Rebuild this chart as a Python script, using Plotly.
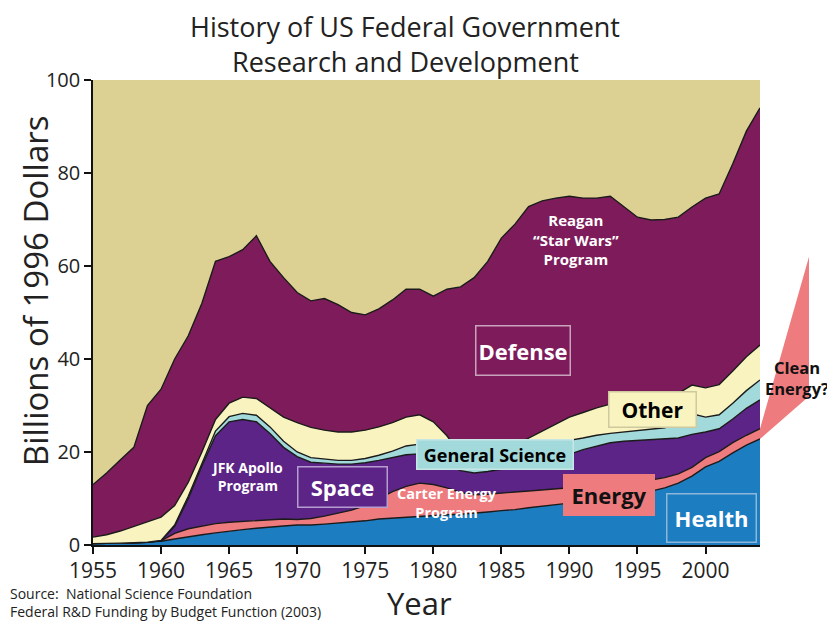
import plotly.graph_objects as go

years = list(range(1955, 2005))

health = [0.3, 0.3, 0.4, 0.5, 0.6, 0.8, 1.3, 1.8, 2.2, 2.6,
          3.0, 3.3, 3.6, 3.9, 4.1, 4.3, 4.3, 4.5, 4.7, 5.0,
          5.2, 5.6, 5.8, 6.0, 6.2, 6.4, 6.5, 6.6, 6.8, 7.1,
          7.4, 7.6, 8.0, 8.3, 8.6, 9.0, 9.4, 9.9, 10.3, 10.7,
          11.0, 11.6, 12.3, 13.3, 14.8, 16.8, 18.0, 19.8, 21.5, 22.8]
energy = [0, 0, 0, 0, 0, 0.1, 1.2, 1.7, 1.9, 2.0,
          1.9, 1.8, 1.7, 1.6, 1.5, 1.2, 1.4, 1.7, 2.1, 2.5,
          3.3, 4.4, 5.7, 6.6, 7.1, 6.6, 5.8, 4.7, 4.0, 3.8,
          3.8, 3.8, 3.6, 3.5, 3.4, 3.3, 3.2, 3.0, 2.9, 2.7,
          2.5, 2.4, 2.2, 2.0, 1.9, 2.0, 2.1, 2.2, 2.1, 2.2]
space = [0, 0, 0, 0, 0, 0.1, 1.5, 6.5, 12.9, 18.9,
         21.6, 21.9, 21.2, 18.5, 15.4, 13.5, 12.1, 11.4, 10.6, 9.9,
         9.2, 8.2, 7.3, 6.8, 6.3, 6.0, 5.2, 4.7, 4.7, 4.9,
         5.1, 5.4, 5.9, 6.4, 6.8, 7.2, 7.9, 8.4, 8.8, 8.9,
         9.0, 8.6, 8.3, 7.7, 7.1, 5.5, 4.9, 5.1, 5.8, 6.2]
general_science = [0, 0, 0, 0, 0, 0, 0.3, 0.5, 0.7, 1.0,
                   1.1, 1.3, 1.4, 1.4, 1.3, 1.0, 1.0, 0.9, 0.8, 0.8,
                   0.9, 1.1, 1.4, 1.9, 2.1, 2.0, 1.7, 1.4, 1.2, 1.4,
                   1.5, 1.7, 1.8, 2.0, 2.5, 3.0, 2.5, 2.3, 2.0, 2.0,
                   2.0, 2.2, 2.4, 3.2, 4.4, 3.2, 3.0, 3.4, 3.8, 4.3]
other = [1.4, 1.9, 2.6, 3.5, 4.4, 5.0, 4.2, 3.0, 2.3, 2.5,
         2.9, 3.5, 3.6, 4.1, 5.2, 6.3, 6.5, 6.2, 6.1, 6.1,
         6.1, 6.1, 6.1, 6.2, 6.3, 5.5, 4.3, 2.1, 0.8, 1.8,
         2.7, 3.0, 3.7, 4.3, 4.7, 5.0, 5.5, 5.9, 6.3, 6.5,
         6.7, 6.8, 6.8, 6.4, 6.2, 6.3, 6.5, 6.9, 7.3, 7.5]
defense = [11.3, 13.3, 15.3, 17.0, 25.0, 27.5, 31.5, 31.5, 32.0, 34.0,
           31.5, 31.7, 35.0, 31.5, 30.0, 28.0, 27.2, 28.3, 27.4, 25.7,
           24.8, 25.4, 26.4, 27.5, 27.0, 27.0, 31.5, 36.0, 40.0, 42.0,
           45.5, 47.5, 49.8, 49.5, 48.6, 47.5, 46.1, 45.1, 44.7, 41.9,
           39.3, 38.3, 38.0, 37.9, 38.3, 40.8, 41.0, 44.6, 48.5, 51.0]

# hypothetical "Clean Energy?" projection: (year, lower edge, upper edge)
clean_energy_projection = (2007.6, 32.0, 62.0)

x_ticks = list(range(1955, 2001, 5))
y_ticks = [0, 20, 40, 60, 80, 100]
X_RANGE = [1955, 2004]
Y_RANGE = [0, 100]

C_BG = "#DCD193"
C_DEF = "#7E1C5B"
C_OTH = "#F8F3BF"
C_GS = "#A2D9DA"
C_SPACE = "#5C2486"
C_EN = "#EE7B7D"
C_HEALTH = "#1D7DC1"
EDGE = "#1b1b1b"
FONT = "Open Sans"

fig = go.Figure()
series = [("Health", health, C_HEALTH), ("Energy", energy, C_EN),
          ("Space", space, C_SPACE), ("General Science", general_science, C_GS),
          ("Other", other, C_OTH), ("Defense", defense, C_DEF)]
for name, vals, col in series:
    fig.add_trace(go.Scatter(x=years, y=vals, name=name, stackgroup="rd",
                             mode="lines", line=dict(color=EDGE, width=1.4),
                             fillcolor=col, hoverinfo="x+y+name"))

def px(x):
    return (x - X_RANGE[0]) / (X_RANGE[1] - X_RANGE[0])

def py(y):
    return (y - Y_RANGE[0]) / (Y_RANGE[1] - Y_RANGE[0])

# Clean energy wedge extending the energy band beyond the plot
h_end = health[-1]
e_end = health[-1] + energy[-1]
cx, clo, chi = clean_energy_projection
path = (f"M {px(years[-1])},{py(e_end)} L {px(cx)},{py(chi)} "
        f"L {px(cx)},{py(clo)} L {px(years[-1])},{py(h_end)} Z")
fig.add_shape(type="path", path=path, xref="paper", yref="paper",
              fillcolor=C_EN, line=dict(width=0), layer="above")

ann = []
def label(text, x, y, size, color, bg=None, border=None, w=None, h=None, xref="x", yref="y"):
    d = dict(text=text, x=x, y=y, xref=xref, yref=yref, showarrow=False,
             xanchor="center", yanchor="middle",
             font=dict(family=FONT, size=size, color=color), align="center")
    if bg:
        d.update(bgcolor=bg, borderpad=2)
    if border:
        d.update(bordercolor=border, borderwidth=1.5)
    if w:
        d.update(width=w, height=h)
    ann.append(d)

label("<b>Reagan<br>“Star Wars”<br>Program</b>", 1990.5, 65.6, 15, "white")
label("<b>Defense</b>", 1986.56, 41.9, 22, "white", C_DEF, "#C9A2BC", 89, 44)
label("<b>Other</b>", 1996.07, 29.2, 21, "black", C_OTH, "#CFC99F", 82, 30)
label("<b>General Science</b>", 1984.5, 19.57, 18, "black", C_GS, "#C8E6E6", 151, 24)
label("<b>JFK Apollo<br>Program</b>", 1966.3, 14.8, 14, "white")
label("<b>Space</b>", 1973.3, 12.58, 22, "white", C_SPACE, "#B59DD0", 84, 35)
label("<b>Carter Energy<br>Program</b>", 1981.0, 9.0, 14.5, "white")
label("<b>Energy</b>", 1992.88, 10.65, 22, "#111", C_EN, C_EN, 85, 35)
label("<b>Health</b>", 2000.41, 5.91, 22, "white", C_HEALTH, "#8DB6DA", 84, 43)
label("<b>Clean<br>Energy?</b>", 1.056, 0.36, 16.5, "#111", xref="paper", yref="paper")

ann.append(dict(text="History of US Federal Government", x=0.468, y=1.115, xref="paper", yref="paper",
                showarrow=False, xanchor="center", yanchor="middle", borderpad=0,
                font=dict(family=FONT, size=27, color="#222")))
ann.append(dict(text="Research and Development", x=0.468, y=1.04, xref="paper", yref="paper",
                showarrow=False, xanchor="center", yanchor="middle", borderpad=0,
                font=dict(family=FONT, size=27, color="#222")))
ann.append(dict(text="Billions of 1996 Dollars", x=-0.087, y=0.548, xref="paper", yref="paper",
                xanchor="center", yanchor="middle",
                textangle=-90, showarrow=False, font=dict(family=FONT, size=33, color="#222")))
ann.append(dict(text="Year", x=0.49, y=-0.125, xref="paper", yref="paper", showarrow=False,
                xanchor="center", yanchor="middle",
                font=dict(family=FONT, size=31, color="#222")))
ann.append(dict(text="Source:  National Science Foundation<br>Federal R&D Funding by Budget Function (2003)",
                x=-0.127, y=-0.123, xref="paper", yref="paper", xanchor="left", yanchor="middle",
                showarrow=False, align="left", font=dict(family=FONT, size=14, color="#222")))

# page body adds an 8px margin, so the figure is shrunk and shifted by that much
fig.update_layout(
    width=827, height=615,
    margin=dict(l=85, r=75, t=72, b=78, autoexpand=False),
    paper_bgcolor="white", plot_bgcolor=C_BG,
    showlegend=False, annotations=ann,
    font=dict(family=FONT, color="#222"),
)
fig.update_xaxes(range=X_RANGE, tickvals=x_ticks, ticks="outside", ticklen=7, tickwidth=1.5,
                 tickcolor="#111", showline=True, linecolor="#111", linewidth=1.5,
                 ticklabelstandoff=-1,
                 showgrid=False, zeroline=False, tickfont=dict(size=21, color="#222"))
fig.update_yaxes(range=Y_RANGE, tickvals=y_ticks, ticks="outside", ticklen=7, tickwidth=1.5,
                 tickcolor="#111", showline=True, linecolor="#111", linewidth=1.5,
                 showgrid=False, zeroline=False, tickfont=dict(size=20, color="#222"))

fig.write_html("out.html")
